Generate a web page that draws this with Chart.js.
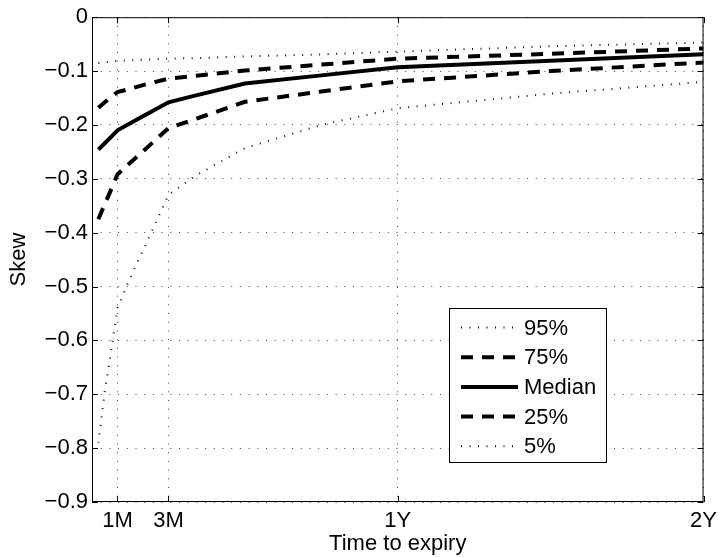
<!DOCTYPE html>
<html>
<head>
<meta charset="utf-8">
<script src="https://cdn.jsdelivr.net/npm/chart.js@4.4.0/dist/chart.umd.min.js"></script>
<style>
    html, body { margin: 0; padding: 0; background: #fff; }
    #wrap { width: 723px; height: 557px; }
</style>
</head>
<body>
<div id="wrap"><canvas id="skewChart"></canvas></div>
<script>
// data (time to expiry in months)
const tenors = [0.25, 0.5, 0.75, 1, 1.5, 2, 3, 4, 6, 9, 12, 18, 24]
const p95 = [-0.085, -0.084, -0.082, -0.081, -0.080, -0.079, -0.077, -0.076, -0.073, -0.069, -0.064, -0.054, -0.047]
const p75 = [-0.168, -0.158, -0.148, -0.139, -0.133, -0.126, -0.114, -0.109, -0.099, -0.088, -0.077, -0.068, -0.058]
const median = [-0.246, -0.234, -0.222, -0.210, -0.197, -0.184, -0.158, -0.146, -0.123, -0.108, -0.093, -0.081, -0.069]
const p25 = [-0.375, -0.347, -0.320, -0.292, -0.270, -0.249, -0.206, -0.190, -0.157, -0.138, -0.119, -0.100, -0.084]
const p5 = [-0.790, -0.695, -0.620, -0.540, -0.483, -0.433, -0.330, -0.296, -0.243, -0.200, -0.169, -0.142, -0.120]

const seriesLabels = ['95%', '75%', 'Median', '25%', '5%']
const xTickValues = [1, 3, 12, 24]
const xTickLabels = ['1M', '3M', '1Y', '2Y']

const FONT = { family: '"Liberation Sans", Arial, Helvetica, sans-serif', size: 22 }

function toPoints(values) {
    return values.map((v, i) => ({ x: tenors[i], y: v }))
}

const DOTTED = { borderDash: [1, 7.5], borderWidth: 2, borderColor: '#111' }
const DASHED = { borderDash: [12, 9], borderWidth: 4, borderColor: '#000' }
const SOLID = { borderDash: [], borderWidth: 4, borderColor: '#000' }

const styles = [DOTTED, DASHED, SOLID, DASHED, DOTTED]
const seriesData = [p95, p75, median, p25, p5]

// frame, inner ticks and legend box (matlab look)
const matlabFrame = {
    id: 'matlabFrame',
    afterDatasetsDraw(chart) {
        const { ctx, chartArea: a, scales } = chart
        ctx.save()
        ctx.strokeStyle = '#000'
        ctx.lineWidth = 1
        ctx.setLineDash([])
        ctx.strokeRect(a.left + 0.5, a.top + 0.5, a.right - a.left - 1, a.bottom - a.top - 1)

        const tl = 6
        ctx.beginPath()
        scales.y.ticks.forEach((t) => {
            const py = Math.round(scales.y.getPixelForValue(t.value)) + 0.5
            ctx.moveTo(a.left, py); ctx.lineTo(a.left + tl, py)
            ctx.moveTo(a.right, py); ctx.lineTo(a.right - tl, py)
        })
        scales.x.ticks.forEach((t) => {
            const px = Math.round(scales.x.getPixelForValue(t.value)) + 0.5
            ctx.moveTo(px, a.bottom); ctx.lineTo(px, a.bottom - tl)
            ctx.moveTo(px, a.top); ctx.lineTo(px, a.top + tl)
        })
        ctx.stroke()

        // legend
        const bx = 449.5, by = 308.5, bw = 157, bh = 154
        ctx.fillStyle = '#fff'
        ctx.fillRect(bx, by, bw, bh)
        ctx.strokeRect(bx, by, bw, bh)
        ctx.font = FONT.size + 'px ' + FONT.family
        ctx.textBaseline = 'middle'
        ctx.textAlign = 'left'
        chart.data.datasets.forEach((ds, i) => {
            const ly = by + 19 + i * 29.7
            ctx.beginPath()
            ctx.strokeStyle = ds.borderColor
            ctx.lineWidth = ds.borderWidth
            ctx.setLineDash(ds.borderDash)
            ctx.lineCap = 'butt'
            ctx.moveTo(461, ly)
            ctx.lineTo(518, ly)
            ctx.stroke()
            ctx.fillStyle = '#000'
            ctx.fillText(ds.label, 524, ly + 1)
        })
        ctx.restore()
    }
}

new Chart(document.getElementById('skewChart'), {
    type: 'line',
    data: {
        datasets: seriesData.map((vals, i) => ({
            label: seriesLabels[i],
            data: toPoints(vals),
            ...styles[i],
            fill: false,
            tension: 0,
            pointRadius: 0,
            borderCapStyle: 'butt',
            borderJoinStyle: 'miter'
        }))
    },
    options: {
        responsive: true,
        maintainAspectRatio: false,
        animation: false,
        devicePixelRatio: 1,
        layout: { padding: { top: 15, right: 15, left: 0, bottom: 0 } },
        plugins: {
            legend: { display: false },
            tooltip: { enabled: false }
        },
        scales: {
            x: {
                type: 'linear',
                min: 0,
                max: 24,
                afterBuildTicks: (scale) => {
                    scale.ticks = xTickValues.map((v) => ({ value: v }))
                },
                afterFit: (scale) => { scale.height = 55 },
                ticks: {
                    autoSkip: false,
                    maxRotation: 0,
                    padding: 6,
                    color: '#000',
                    font: FONT,
                    callback: (value) => xTickLabels[xTickValues.indexOf(value)]
                },
                grid: { color: '#444', lineWidth: 1, drawTicks: false },
                border: { display: false, dash: [1, 7.7] },
                title: { display: true, text: 'Time to expiry', color: '#000', font: FONT, padding: 0 }
            },
            y: {
                min: -0.9,
                max: 0,
                afterFit: (scale) => { scale.width = 92 },
                ticks: {
                    stepSize: 0.1,
                    padding: 4,
                    color: '#000',
                    font: FONT,
                    callback: (value) => {
                        const v = Math.round(value * 10) / 10
                        return v === 0 ? '0' : '\u2212' + Math.abs(v).toFixed(1)
                    }
                },
                grid: { color: '#444', lineWidth: 1, drawTicks: false },
                border: { display: false, dash: [1, 7.7] },
                title: { display: true, text: 'Skew', color: '#000', font: FONT, padding: { top: 6, bottom: 0 } }
            }
        }
    },
    plugins: [matlabFrame]
})
</script>
</body>
</html>
